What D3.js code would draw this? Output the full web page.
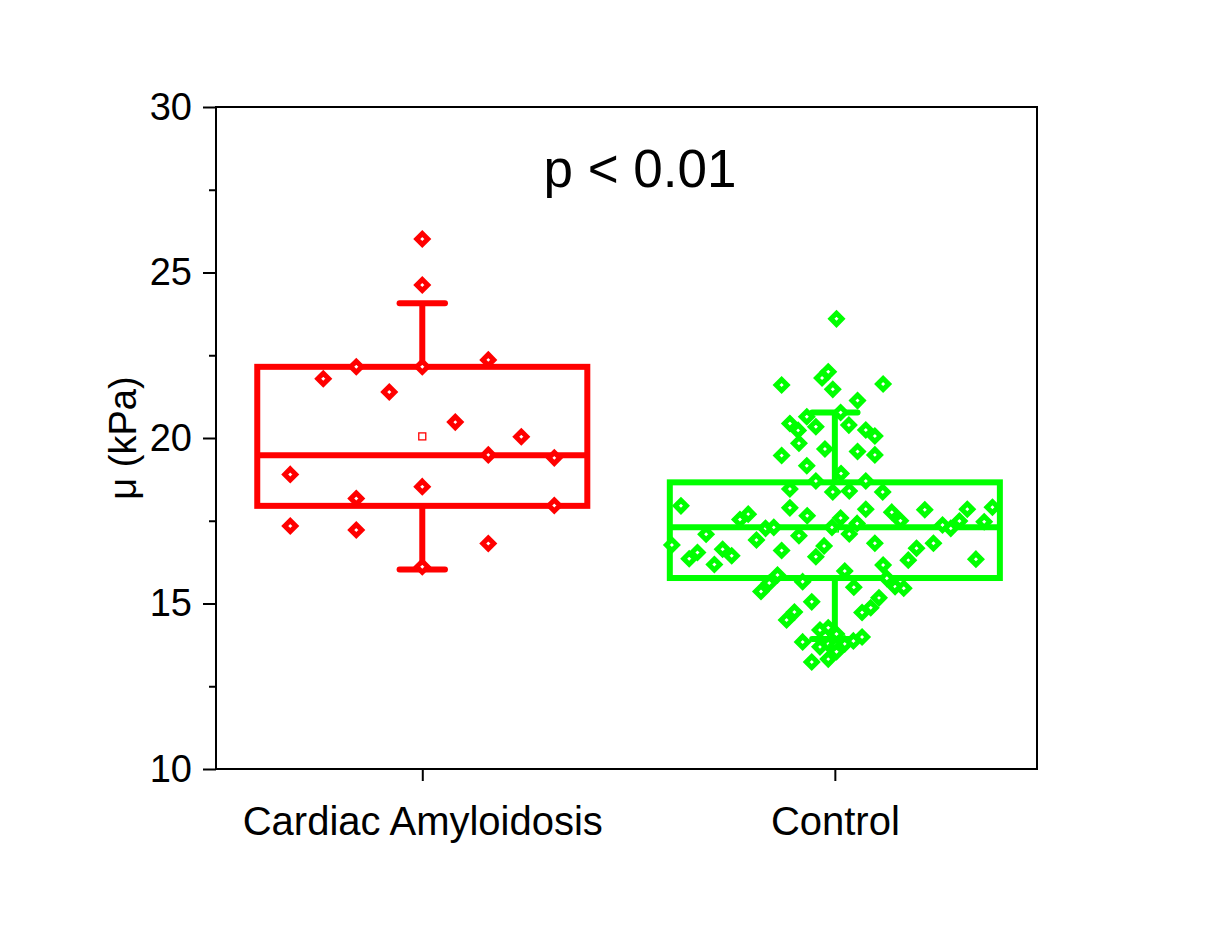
<!DOCTYPE html>
<html>
<head>
<meta charset="utf-8">
<script src="https://cdn.jsdelivr.net/npm/d3@7"></script>
<style>
    body{margin:0;background:#fff;}
    text{font-family:Arial,"Liberation Sans",sans-serif;fill:#000;}
</style>
</head>
<body>
<div id="chart"></div>
<script>
// groups on the x axis
var groups=["Cardiac Amyloidosis","Control"];
var groupColors=["#ff0000","#00ff00"];

// cardiac amyloidosis: values (kPa) and horizontal spread (category units)
var caValues=[26.01,24.62,22.15,21.79,22.15,22.36,21.39,20.48,20.04,19.49,
    19.40,18.90,18.53,18.17,17.96,17.34,17.22,16.81,16.11];
var caJitter=[0,0,-0.16,-0.24,0,0.16,-0.08,0.08,0.24,0.16,
    0.32,-0.32,0,-0.16,0.32,-0.32,-0.16,0.16,0];

// control: values (kPa) and horizontal spread
var ctrlValues=[23.60,22.00,21.81,21.47,21.60,21.63,21.13,20.77,20.64,20.44,
    20.34,20.23,20.39,20.24,20.06,19.84,19.67,19.59,19.49,19.47,
    19.16,18.93,18.70,18.70,18.46,18.37,18.40,18.37,17.95,17.89,
    17.65,17.85,17.54,17.70,17.58,17.30,17.42,17.10,17.76,17.50,
    17.83,17.85,17.91,17.37,17.27,17.49,17.47,17.27,17.30,17.09,
    16.92,17.05,16.77,16.35,16.54,16.18,16.64,16.44,16.60,16.41,
    16.74,16.82,16.31,16.67,16.82,16.34,16.16,15.36,15.62,15.86,
    15.66,15.98,15.49,15.76,15.51,15.46,15.05,14.50,14.74,14.73,
    14.87,15.17,14.20,14.27,14.08,13.84,13.69,13.78,13.75,13.78,
    13.87,13.99,13.23,13.32,13.54];
var ctrlJitter=[0.004,-0.016,-0.031,-0.005,-0.129,0.117,0.055,0.014,-0.068,-0.109,
    -0.046,-0.089,0.034,0.075,0.097,-0.087,-0.024,0.055,0.097,-0.129,
    -0.068,0.015,-0.046,0.075,-0.109,-0.005,0.035,0.116,-0.373,-0.109,
    -0.067,0.075,-0.230,-0.210,0.014,-0.007,0.054,0.035,0.138,0.159,
    0.218,0.321,0.382,0.261,0.281,0.302,0.362,-0.168,-0.148,-0.312,
    -0.190,-0.087,-0.395,-0.353,-0.333,-0.292,-0.272,-0.250,-0.129,-0.046,
    -0.026,0.097,0.178,0.198,0.239,0.342,0.117,-0.179,-0.159,-0.139,
    -0.078,0.024,0.046,0.126,0.146,0.167,-0.056,-0.117,-0.098,0.066,
    0.087,0.107,-0.036,-0.016,0.004,-0.078,-0.036,-0.016,0.004,0.024,
    0.045,0.066,-0.056,-0.016,0.004];

// box statistics (CA, Control)
var boxQ1=[17.95,15.77];
var boxMedian=[19.48,17.30];
var boxQ3=[22.15,18.66];
var whiskerLow=[16.03,13.93];
var whiskerHigh=[24.07,20.77];

// axis
var yTicks=[10,15,20,25,30];
var yMinorTicks=[12.5,17.5,22.5,27.5];
var yTitle="\u03bc (kPa)";
var pText="p < 0.01";

// 0.size
var svgBGW=1210, svgBGH=926;
var margin={top:107,right:173,bottom:157,left:216};
var svgW=svgBGW-margin.left-margin.right;
var svgH=svgBGH-margin.top-margin.bottom;

var svgBG=d3.select("#chart").append("svg").attr("width",svgBGW).attr("height",svgBGH);
var svg=svgBG.append("g").attr("transform","translate("+margin.left+","+margin.top+")");

// 1.scales
var xScale=d3.scaleLinear().domain([0.5,2.49]).range([0,svgW]);
var yScale=d3.scaleLinear().domain([10,30]).range([svgH,0]);
var unit=xScale(1)-xScale(0);

// 2.axes
var yAxis=d3.axisLeft(yScale).tickValues(yTicks).tickSize(13).tickPadding(11);
var yMinor=d3.axisLeft(yScale).tickValues(yMinorTicks).tickSize(7).tickFormat("");
var xAxis=d3.axisBottom(xScale).tickValues([1,2])
    .tickFormat(function(d){return groups[d-1];})
    .tickSize(12).tickPadding(26);

function styleAxis(g,fs){
    g.select(".domain").remove();
    g.selectAll("line").attr("stroke","#000").attr("stroke-width",2);
    g.selectAll("text").style("font-size",fs+"px").attr("fill","#000");
}
svg.append("g").call(yAxis).call(styleAxis,38);
svg.append("g").call(yMinor).call(styleAxis,38);
svg.append("g").attr("transform","translate(0,"+svgH+")").call(xAxis).call(styleAxis,40);

// frame
svg.append("rect").attr("width",svgW).attr("height",svgH)
    .attr("fill","none").attr("stroke","#000").attr("stroke-width",2);

// axis title and p-value
svgBG.append("text")
    .attr("transform","translate(136,"+(margin.top+svgH/2)+") rotate(-90)")
    .attr("text-anchor","middle").style("font-size","38px").text(yTitle);
svgBG.append("text").attr("x",640).attr("y",187)
    .attr("text-anchor","middle").style("font-size","53px").text(pText);

// 3.boxes
var lw=6;
var halfBox=0.4*unit, halfCap=0.055*unit;
groups.forEach(function(g,i){
    var cx=xScale(i+1), col=groupColors[i];
    var box=svg.append("g").attr("stroke",col).attr("stroke-width",lw).attr("fill","none");
    box.append("rect")
        .attr("x",cx-halfBox).attr("width",halfBox*2)
        .attr("y",yScale(boxQ3[i])).attr("height",yScale(boxQ1[i])-yScale(boxQ3[i]));
    box.append("line").attr("x1",cx-halfBox).attr("x2",cx+halfBox)
        .attr("y1",yScale(boxMedian[i])).attr("y2",yScale(boxMedian[i]));
    // whiskers
    [[boxQ3[i],whiskerHigh[i]],[boxQ1[i],whiskerLow[i]]].forEach(function(w){
        box.append("line").attr("x1",cx).attr("x2",cx)
            .attr("y1",yScale(w[0])).attr("y2",yScale(w[1]));
        box.append("line").attr("x1",cx-halfCap).attr("x2",cx+halfCap)
            .attr("y1",yScale(w[1])).attr("y2",yScale(w[1]))
            .attr("stroke-linecap","round");
    });
});

// 4.mean squares and points
var sets=[{v:caValues,j:caJitter},{v:ctrlValues,j:ctrlJitter}];
var dr=5.5;
var diamond="M0,"+(-dr)+"L"+dr+",0L0,"+dr+"L"+(-dr)+",0Z";
sets.forEach(function(s,i){
    var cx=xScale(i+1), col=groupColors[i];
    var m=d3.mean(s.v);
    svg.append("rect").attr("x",cx-3.5).attr("y",yScale(m)-3.5)
        .attr("width",7).attr("height",7)
        .attr("fill","#fff").attr("stroke",col).attr("stroke-width",1.3);

    var pts=s.v.map(function(v,k){return {v:v,dx:s.j[k]};});
    svg.append("g").selectAll("path").data(pts).enter().append("path")
        .attr("d",diamond)
        .attr("transform",function(d){
            return "translate("+(xScale(i+1+d.dx))+","+yScale(d.v)+")";
        })
        .attr("fill","#fff").attr("stroke",col).attr("stroke-width",5);
});
</script>
</body>
</html>
